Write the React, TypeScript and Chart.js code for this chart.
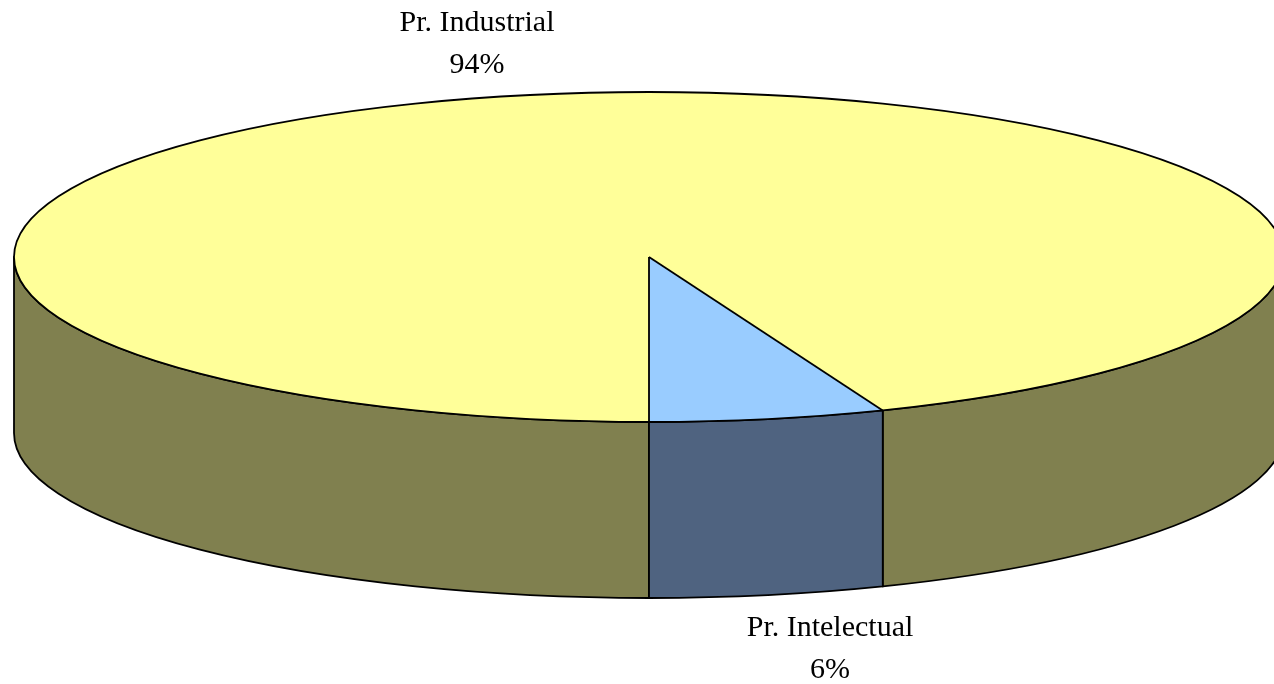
import React, { useEffect, useRef } from "react";
import { Chart, registerables } from "chart.js";

Chart.register(...registerables);

// ---- data ----
const categories = ["Pr. Industrial", "Pr. Intelectual"];
const values = [94, 6];

// ---- styles ----
const topColors = ["#FFFF99", "#99CCFF"];
const sideColors = ["#80804F", "#4F6380"];
const labelAnchors = [
  { x: 477, y: 31 },
  { x: 830, y: 636 },
];

// ---- 3D layout ----
const CX = 649;
const CY = 257;
const RX = 635;
const RY = 165;
const DEPTH = 176;
const LINE_W = 1.8;
const FONT = '30px "Liberation Serif", "Times New Roman", serif';
const LINE_GAP = 42;

const pie3d = {
  id: "pie3d",
  beforeDatasetsDraw(chart: any) {
    const ctx = chart.ctx as CanvasRenderingContext2D;
    const meta = chart.getDatasetMeta(0);
    const arcs = meta.data;
    // side faces (front half only)
    ctx.save();
    ctx.lineWidth = LINE_W;
    ctx.strokeStyle = "#000";
    ctx.lineJoin = "round";
    arcs.forEach((arc: any, i: number) => {
      const { startAngle: s, endAngle: e } = arc.getProps(["startAngle", "endAngle"], true);
      for (let k = -1; k <= 2; k++) {
        const lo = Math.max(s, 2 * Math.PI * k);
        const hi = Math.min(e, 2 * Math.PI * k + Math.PI);
        if (hi - lo <= 1e-6) continue;
        ctx.beginPath();
        ctx.ellipse(CX, CY, RX, RY, 0, lo, hi, false);
        ctx.lineTo(CX + RX * Math.cos(hi), CY + DEPTH + RY * Math.sin(hi));
        ctx.ellipse(CX, CY + DEPTH, RX, RY, 0, hi, lo, true);
        ctx.closePath();
        ctx.fillStyle = sideColors[i];
        ctx.fill();
        ctx.stroke();
      }
    });
    ctx.restore();
    // squash the pie into the top ellipse
    const a0 = arcs[0].getProps(["x", "y", "outerRadius"], true);
    ctx.save();
    ctx.translate(CX, CY);
    ctx.scale(RX / a0.outerRadius, RY / a0.outerRadius);
    ctx.translate(-a0.x, -a0.y);
  },
  afterDatasetsDraw(chart: any) {
    const ctx = chart.ctx as CanvasRenderingContext2D;
    ctx.restore();
    const meta = chart.getDatasetMeta(0);
    ctx.save();
    ctx.lineWidth = LINE_W;
    ctx.strokeStyle = "#000";
    ctx.lineJoin = "round";
    ctx.beginPath();
    ctx.ellipse(CX, CY, RX, RY, 0, 0, Math.PI * 2);
    ctx.stroke();
    meta.data.forEach((arc: any) => {
      const { startAngle: s } = arc.getProps(["startAngle"], true);
      ctx.beginPath();
      ctx.moveTo(CX, CY);
      ctx.lineTo(CX + RX * Math.cos(s), CY + RY * Math.sin(s));
      ctx.stroke();
    });
    // labels
    const total = values.reduce((a, b) => a + b, 0);
    ctx.fillStyle = "#000";
    ctx.font = FONT;
    ctx.textAlign = "center";
    ctx.textBaseline = "alphabetic";
    categories.forEach((c, i) => {
      const p = labelAnchors[i];
      ctx.fillText(c, p.x, p.y);
      ctx.fillText(`${Math.round((values[i] / total) * 100)}%`, p.x, p.y + LINE_GAP);
    });
    ctx.restore();
  },
};

export default function App() {
  const ref = useRef<HTMLCanvasElement | null>(null);
  useEffect(() => {
    document.body.style.margin = "0";
    const chart = new Chart(ref.current as HTMLCanvasElement, {
      type: "pie",
      data: {
        labels: categories,
        datasets: [
          {
            data: values,
            backgroundColor: topColors,
            borderWidth: 0,
            clip: false,
          } as any,
        ],
      },
      options: {
        animation: false,
        responsive: true,
        maintainAspectRatio: false,
        rotation: 180,
        events: [],
        plugins: { legend: { display: false }, tooltip: { enabled: false } },
      },
      plugins: [pie3d],
    });
    return () => chart.destroy();
  }, []);
  return (
    <div style={{ width: 1274, height: 684, position: "relative", background: "#fff" }}>
      <canvas ref={ref} />
    </div>
  );
}
